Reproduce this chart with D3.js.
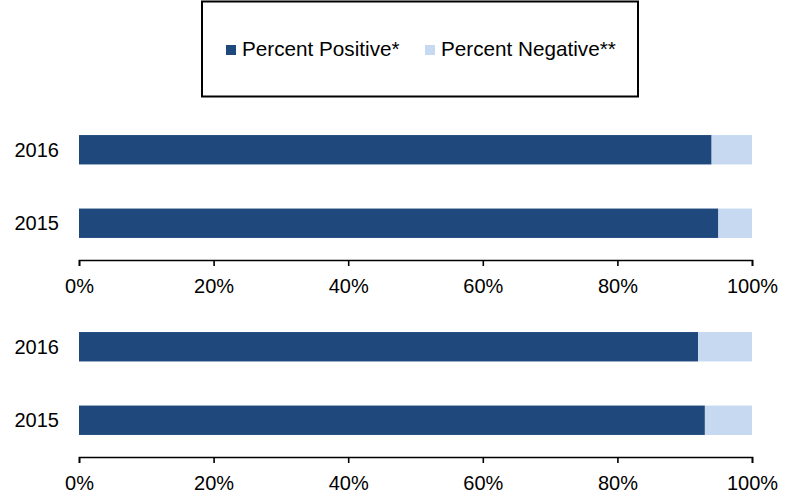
<!DOCTYPE html>
<html>
<head>
<meta charset="utf-8">
<script src="https://cdn.jsdelivr.net/npm/d3@7"></script>
<style>
  html, body { margin: 0; padding: 0; background: #fff; }
  svg { display: block; font-family: "Liberation Sans", Arial, sans-serif; }
</style>
</head>
<body>
<svg id="chart" width="799" height="495"></svg>
<script>
// Data
const years = ["2016", "2015"];
const seriesNames = ["Percent Positive*", "Percent Negative**"];
const panel1Positive = [94, 95];
const panel1Negative = [6, 5];
const panel2Positive = [92, 93];
const panel2Negative = [8, 7];
const tickValues = [0, 20, 40, 60, 80, 100];
const colors = ["#1F497D", "#C6D9F1"];

const svg = d3.select("#chart");
const x = d3.scaleLinear().domain([0, 100]).range([79, 752]);

const panels = [
  { pos: panel1Positive, neg: panel1Negative, range: [113, 260] },
  { pos: panel2Positive, neg: panel2Negative, range: [310, 457] }
];

panels.forEach(p => {
  const y = d3.scaleBand().domain(years).range(p.range)
    .paddingInner(0.6).paddingOuter(0.3);
  const g = svg.append("g");
  const rows = years.map((yr, i) => ({ yr, vals: [p.pos[i], p.neg[i]] }));
  rows.forEach(r => {
    let acc = 0;
    r.vals.forEach((v, k) => {
      g.append("rect")
        .attr("x", x(acc))
        .attr("y", y(r.yr))
        .attr("width", x(acc + v) - x(acc))
        .attr("height", y.bandwidth())
        .attr("fill", colors[k]);
      acc += v;
    });
    g.append("text")
      .attr("x", 59)
      .attr("y", y(r.yr) + y.bandwidth() / 2)
      .attr("dy", "0.36em")
      .attr("text-anchor", "end")
      .attr("font-size", 20)
      .attr("fill", "#000")
      .text(r.yr);
  });
  const axis = d3.axisBottom(x)
    .tickValues(tickValues)
    .tickSizeInner(6).tickSizeOuter(6)
    .tickPadding(13)
    .tickFormat(d => d + "%");
  const ag = svg.append("g")
    .attr("transform", `translate(0,${p.range[1]})`)
    .call(axis);
  ag.selectAll("path, line").attr("stroke", "#000").attr("stroke-width", 1.6);
  ag.selectAll("text").attr("font-size", 20).attr("fill", "#000")
    .attr("font-family", "'Liberation Sans', Arial, sans-serif");
});

// Legend
const lg = svg.append("g");
lg.append("rect")
  .attr("x", 202).attr("y", 1.5).attr("width", 436).attr("height", 95)
  .attr("fill", "#fff").attr("stroke", "#000").attr("stroke-width", 2);
const legendX = [226, 425];
seriesNames.forEach((name, i) => {
  lg.append("rect")
    .attr("x", legendX[i]).attr("y", 45).attr("width", 10).attr("height", 10)
    .attr("fill", colors[i]);
  lg.append("text")
    .attr("x", legendX[i] + 16).attr("y", 56)
    .attr("font-size", 20.7).attr("fill", "#000")
    .text(name);
});
</script>
</body>
</html>
